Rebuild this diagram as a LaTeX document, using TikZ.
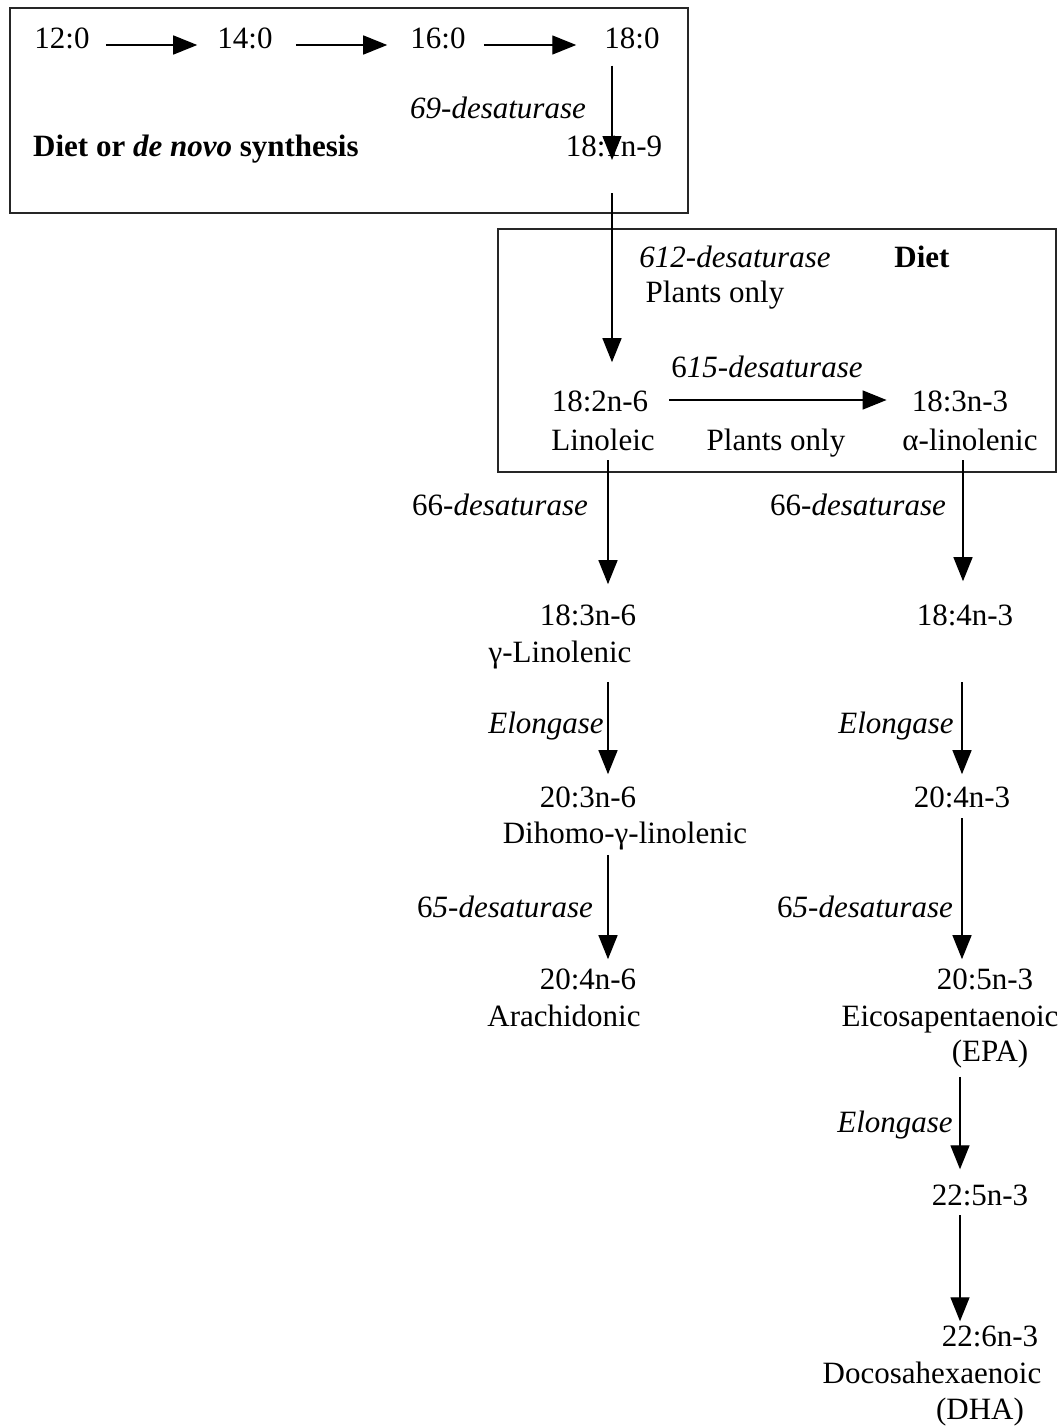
\documentclass[tikz,border=0pt]{standalone}
\usepackage{fontspec}
\setmainfont{Liberation Serif}
\usetikzlibrary{arrows.meta}
\begin{document}
\begin{tikzpicture}[x=1pt,y=-1pt,
  lbl/.style={inner sep=0pt, anchor=base, font=\fontsize{31}{37}\selectfont},
  arr/.style={line width=1.4pt, -{Triangle[length=24pt,width=19pt]}},
  frame/.style={line width=1.5pt, draw=black!85}]
\useasboundingbox (0,0) rectangle (1058,1427);
\fill[white] (0,0) rectangle (1058,1427);
% frames
\draw[frame] (10,8) rectangle (688,213);
\draw[frame] (498,229) rectangle (1056,472);
% column coordinates
\coordinate (cA) at (612,0);
\coordinate (cL) at (608,0);
\coordinate (cR) at (963,0);
\coordinate (cR2) at (962,0);
\coordinate (cR3) at (960,0);
% row 1
\node[lbl] (n12) at (62,48) {12:0};
\node[lbl] (n14) at (245,48) {14:0};
\node[lbl] (n16) at (438,48) {16:0};
\node[lbl] (n18) at (632,48) {18:0};
\node[lbl] (e9) at (498,118) {\itshape 69-desaturase};
\node[lbl, anchor=base west] (dnv) at (33,156) {\bfseries Diet or \textit{de novo} synthesis};
\node[lbl] (n181) at (614,156) {18:1n-9};
% box 2
\node[lbl] (e12) at (735,267) {\itshape 612-desaturase};
\node[lbl] (diet) at (922,267) {\bfseries Diet};
\node[lbl] (po1) at (715,302) {Plants only};
\node[lbl] (e15) at (767,377) {6\textit{15-desaturase}};
\node[lbl] (n182) at (600,411) {18:2n-6};
\node[lbl] (n183) at (960,411) {18:3n-3};
\node[lbl] (lin) at (603,450) {Linoleic};
\node[lbl] (po2) at (776,450) {Plants only};
\node[lbl] (alin) at (970,450) {α-linolenic};
% lower columns
\node[lbl] (e6L) at (500,515) {66\textit{-desaturase}};
\node[lbl] (e6R) at (858,515) {66\textit{-desaturase}};
\node[lbl] (n1836) at (588,625) {18:3n-6};
\node[lbl] (glin) at (560,662) {γ-Linolenic};
\node[lbl] (n1843) at (965,625) {18:4n-3};
\node[lbl] (elL) at (546,733) {\itshape Elongase};
\node[lbl] (elR) at (896,733) {\itshape Elongase};
\node[lbl] (n2036) at (588,807) {20:3n-6};
\node[lbl] (dgl) at (625,843) {Dihomo-γ-linolenic};
\node[lbl] (n2043) at (962,807) {20:4n-3};
\node[lbl] (e5L) at (505,917) {6\textit{5-desaturase}};
\node[lbl] (e5R) at (865,917) {6\textit{5-desaturase}};
\node[lbl] (n2046) at (588,989) {20:4n-6};
\node[lbl] (ara) at (564,1026) {Arachidonic};
\node[lbl] (n2053) at (985,989) {20:5n-3};
\node[lbl] (eic) at (950,1026) {Eicosapentaenoic};
\node[lbl] (epa) at (990,1061) {(EPA)};
\node[lbl] (el2) at (895,1132) {\itshape Elongase};
\node[lbl] (n2253) at (980,1205) {22:5n-3};
\node[lbl] (n2263) at (990,1346) {22:6n-3};
\node[lbl] (doc) at (932,1383) {Docosahexaenoic};
\node[lbl] (dha) at (980,1419) {(DHA)};
% arrows row 1
\draw[arr, shorten <=16pt, shorten >=20pt] ([yshift=3pt]n12.base east) -- ([yshift=3pt]n14.base west);
\draw[arr, shorten <=23pt, shorten >=23pt] ([yshift=3pt]n14.base east) -- ([yshift=3pt]n16.base west);
\draw[arr, shorten <=18pt, shorten >=28pt] ([yshift=3pt]n16.base east) -- ([yshift=3pt]n18.base west);
% vertical
\draw[arr, shorten <=17pt, shorten >=-4pt] (n18.south -| cA) -- (n181.base -| cA);
\draw[arr, shorten <=37pt, shorten >=28pt] (n181.base -| cA) -- (n182.north -| cA);
\draw[arr, shorten <=21pt, shorten >=25pt] ([yshift=11pt]n182.base east) -- ([yshift=11pt]n183.base west);
\draw[arr, shorten <=10pt, shorten >=20pt] (lin.base -| cL) -- (n1836.north -| cL);
\draw[arr, shorten <=10pt, shorten >=23pt] (alin.base -| cR) -- (n1843.north -| cR);
\draw[arr, shorten <=13pt, shorten >=12pt] (glin.south -| cL) -- (n2036.north -| cL);
\draw[arr, shorten <=57pt, shorten >=12pt] (n1843.base -| cR2) -- (n2043.north -| cR2);
\draw[arr, shorten <=5pt, shorten >=9pt] (dgl.south -| cL) -- (n2046.north -| cL);
\draw[arr, shorten <=11pt, shorten >=9pt] (n2043.base -| cR2) -- (n2053.north -| cR2);
\draw[arr, shorten <=9pt, shorten >=15pt] (epa.south -| cR3) -- (n2253.north -| cR3);
\draw[arr, shorten <=10pt, shorten >=4pt] (n2253.base -| cR3) -- (n2263.north -| cR3);
\end{tikzpicture}
\end{document}
